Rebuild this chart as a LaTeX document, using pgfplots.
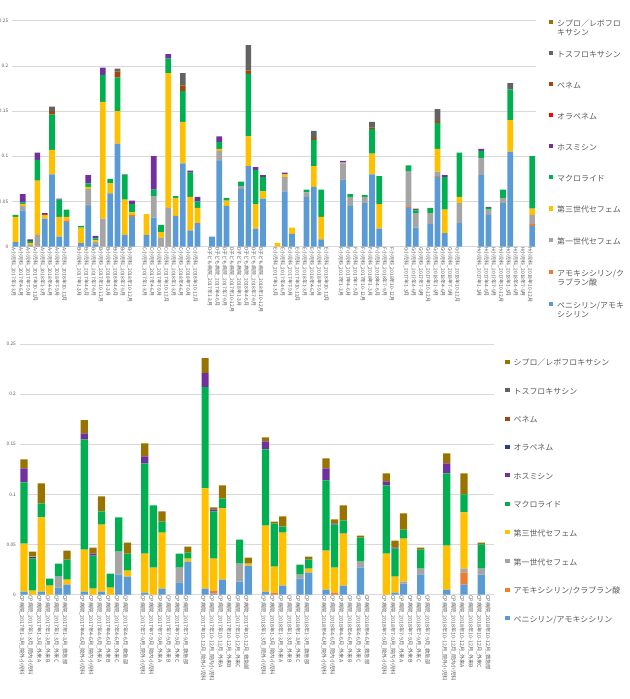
\documentclass[border=0pt]{standalone}
\usepackage{fontspec}
\setmainfont{Noto Sans CJK JP}
\usepackage{pgfplots}
\pgfplotsset{compat=1.18}
\usepackage{pgfplotstable}

\definecolor{cPen}{HTML}{5B9BD5}
\definecolor{cAmc}{HTML}{ED7D31}
\definecolor{cCefA}{HTML}{A5A5A5}
\definecolor{cCefC}{HTML}{FFC000}
\definecolor{cMac}{HTML}{00B050}
\definecolor{cFos}{HTML}{7030A0}
\definecolor{cOraTop}{HTML}{FF0000}
\definecolor{cOraBot}{HTML}{264478}
\definecolor{cPnm}{HTML}{9E480E}
\definecolor{cTos}{HTML}{636363}
\definecolor{cCip}{HTML}{997300}
\definecolor{txt}{HTML}{595959}
\definecolor{grd}{HTML}{D9D9D9}

% quarters
\newcommand\qa{2017年1-3月}
\newcommand\qb{2017年4-6月}
\newcommand\qc{2017年7-9月}
\newcommand\qd{2017年10-12月}
\newcommand\qe{2018年1-3月}
\newcommand\qf{2018年4-6月}
\newcommand\qg{2018年7-9月}
\newcommand\qh{2018年10-12月}

% two-line legend text whose second line does not add to the row height
\newcommand\twol[2]{\raisebox{0pt}[\height][0pt]{\begin{tabular}[t]{@{}l@{}}#1\\[-1bp]#2\end{tabular}}}

% per hospital and quarter (x = category slot)
\pgfplotstableread{
x   bl    or    ga    gc    mac   fos   ora   pnm   tos   cip
0   .005  0     0     .028  .002  0     0     0     0     0
1   .040  0     .005  .002  .002  .009  0     0     0     0
2   0     0     .002  .002  .002  .002  0     0     0     0
3   0     0     .013  .060  .023  .008  0     0     0     0
4   .031  0     0     .004  0     .002  0     0     0     0
5   .080  0     0     .027  .039  0     0     .004  .005  0
6   .011  0     0     .022  .019  .001  0     0     0     0
7   .027  .002  0     .004  .008  0     0     0     0     0
9   .004  0     0     .017  .002  0     0     0     0     0
10  .045  0     .019  .002  .004  .009  0     0     0     0
11  .002  0     .003  .002  .002  .003  0     0     0     0
12  0     0     .031  .129  .030  .008  0     0     0     0
13  .059  0     0     .011  .005  0     0     0     0     0
14  .114  0     0     .036  .037  0     0     .007  .003  0
15  .013  0     0     .039  .027  0     0     0     .001  0
16  .033  .002  0     .003  .009  .004  0     0     0     0
18  .013  0     0     .023  0     0     0     0     0     0
19  .032  0     .024  0     .007  .037  0     0     0     0
20  0     0     .010  .006  .008  0     0     0     0     0
21  0     0     .043  .149  .016  .005  0     0     0     0
22  .034  0     0     .020  .002  0     0     0     0     0
23  .092  0     0     .046  .034  0     0     .006  .014  0
24  .018  0     0     .037  .027  .002  0     0     0     0
25  .026  0     0     .017  .007  .005  0     0     0     0
27  .011  0     0     0     0     0     0     0     0     0
28  .095  0     .011  .002  .008  .006  0     0     0     0
29  .045  0     0     .006  .003  0     0     0     0     0
31  .064  0     .003  0     .005  0     0     0     0     0
32  .089  0     0     .033  .069  0     0     .004  .028  0
33  .020  0     0     .027  .038  .003  0     0     0     0
34  .053  0     0     .008  .016  .002  0     0     0     0
36  0     0     0     .004  0     0     0     0     0     0
37  .061  0     .016  .003  0     .002  0     0     0     0
38  .014  0     0     .007  0     0     0     0     0     0
40  .055  0     .005  0     .003  0     0     0     0     0
41  .066  0     0     .023  .029  0     0     .002  .008  0
42  .008  0     0     .025  .030  0     0     0     0     0
45  .074  .001  .017  .001  0     .002  0     0     0     0
46  .045  0     .010  0     .003  0     0     0     0     0
48  .048  0     .007  0     .002  0     0     0     0     0
49  .080  0     0     .023  .027  0     0     .002  .006  0
50  .020  0     0     .027  .031  0     0     0     0     0
54  .043  .001  .039  0     .007  0     0     0     0     0
55  .021  0     .016  0     .003  0     0     0     .002  0
57  .025  0     .012  0     .006  0     0     0     0     0
58  .077  .001  .005  .025  .029  0     0     .002  .013  0
59  .015  0     0     .026  .036  .002  0     0     0     0
61  .026  0     .022  .007  .049  0     0     0     0     0
64  .079  0     .019  0     .008  .002  0     0     0     0
65  .035  0     .006  0     .002  0     0     0     .001  0
67  .048  0     .006  0     .009  0     0     0     0     0
68  .105  0     0     .035  .034  0     0     0     .007  0
71  .023  .002  .010  .007  .058  0     0     0     0     0
}\tophosp

% per quarter and ward
\pgfplotstableread{
x   bl    or    ga    gc    mac   fos   ora   pnm   tos   cip
0   .003  0     0     .048  .061  .014  0     0     0     .009
1   0     0     0     .004  .032  .001  .001  0     0     .005
2   .003  0     0     .074  .014  0     0     0     0     .020
3   0     0     0     .009  .007  0     0     0     0     0
4   .007  0     .011  0     .013  0     0     0     0     0
5   .010  0     0     .005  .020  0     0     0     0     .009
7   .003  0     0     .042  .110  .006  0     0     0     .013
8   0     0     0     .006  .033  .002  0     0     0     .006
9   .003  0     0     .067  .013  0     0     0     0     .015
10  0     0     0     .007  .014  0     0     0     0     0
11  .020  0     .023  0     .034  0     0     0     0     0
12  .018  0     0     .006  .017  0     0     0     0     .011
14  .002  0     0     .039  .090  .007  0     0     0     .013
15  0     0     0     .027  .062  0     0     0     0     0
16  .006  0     0     .056  .011  0     0     0     0     .010
18  .012  0     .015  0     .014  0     0     0     0     0
19  .033  0     0     .003  .006  0     0     0     0     .006
21  .006  0     0     .100  .101  .014  0     0     0     .015
22  .001  .003  0     .032  .047  .002  0     0     0     .002
23  .015  0     0     .071  .010  0     0     0     0     .013
25  .013  0     .018  0     .024  0     0     0     0     0
26  .029  0     0     .002  0     0     0     0     0     .006
28  .003  0     0     .066  .076  .008  0     0     0     .004
29  0     .002  0     .026  .043  0     0     0     0     .002
30  .009  0     0     .053  .006  0     0     0     0     .010
32  .016  0     .004  0     .010  0     0     0     0     0
33  .022  0     0     .004  .009  0     0     0     0     .003
35  .005  0     0     .039  .070  .012  0     0     0     .010
36  0     .002  0     .025  .043  .001  0     0     0     .004
37  .009  0     0     .052  .013  0     0     0     0     .015
39  .027  0     .006  0     .024  0     0     0     0     .002
42  0     0     0     .041  .068  .004  0     0     0     .008
43  .002  0     0     .016  .028  .001  0     0     0     .007
44  .011  0     .002  .043  .009  0     0     0     0     .016
46  .020  0     .006  0     .019  0     0     0     0     .002
49  .005  0     0     .044  .072  .010  0     0     0     .010
51  .010  .012  .004  .056  .018  0     0     0     0     .021
53  .020  0     .006  0     .024  0     0     0     0     .002
}\botward

\pgfplotsset{
  sq/.style={fill=#1, draw=none,
    legend image code/.code={\fill[#1] (0bp,-0.6bp) rectangle (4.2bp,3.6bp);}},
  chartbase/.style={
    scale only axis, ybar stacked,
    ymin=0, ymax=0.25,
    ytick={0,0.05,0.1,0.15,0.2,0.25},
    yticklabels={0,0.05,0.1,0.15,0.2,0.25},
    ymajorgrids, grid style={grd, line width=0.6bp},
    axis line style={draw=none}, major tick length=0pt,
    yticklabel style={font=\fontsize{4.8}{5}\selectfont, text=txt, inner sep=0.5bp, xshift=-3bp},
    xticklabel style={rotate=-90, anchor=west, text=txt, inner sep=0.5bp, yshift=-2bp},
    legend cell align=left,
    reverse legend,
    legend style={draw=none, fill=none, inner sep=0pt, text=txt,
      font=\fontsize{8}{10.5}\selectfont,
      /tikz/every odd column/.append style={column sep=2bp}},
  }
}

\begin{document}
\begin{tikzpicture}[x=1bp, y=1bp]
\path[use as bounding box] (0,0) rectangle (630,699);

% ---------- per hospital (plot box top edge lands at y = 685.7) ----------
\begin{axis}[chartbase,
  at={(16.4,750.4)}, anchor=north west,
  width=523.8bp, height=226bp,
  xmin=-0.5, xmax=71.5,
  bar width=5.7bp,
  xtick={0,1,2,3,4,5,6,7, 9,10,11,12,13,14,15,16, 18,19,20,21,22,23,24,25,
         27,28,29,30,31,32,33,34, 36,37,38,39,40,41,42,43, 45,46,47,48,49,50,51,52,
         54,55,56,57,58,59,60,61, 64,65,66,67,68,69,70,71},
  xticklabels={
    A小児科\_\qa,A小児科\_\qb,A小児科\_\qc,A小児科\_\qd,A小児科\_\qe,A小児科\_\qf,A小児科\_\qg,A小児科\_\qh,
    B小児科\_\qa,B小児科\_\qb,B小児科\_\qc,B小児科\_\qd,B小児科\_\qe,B小児科\_\qf,B小児科\_\qg,B小児科\_\qh,
    C小児科\_\qa,C小児科\_\qb,C小児科\_\qc,C小児科\_\qd,C小児科\_\qe,C小児科\_\qf,C小児科\_\qg,C小児科\_\qh,
    D子ども病院\_\qa,D子ども病院\_\qb,D子ども病院\_\qc,D子ども病院\_\qd,D子ども病院\_\qe,D子ども病院\_\qf,D子ども病院\_\qg,D子ども病院\_\qh,
    E小児科\_\qa,E小児科\_\qb,E小児科\_\qc,E小児科\_\qd,E小児科\_\qe,E小児科\_\qf,E小児科\_\qg,E小児科\_\qh,
    F小児科\_\qa,F小児科\_\qb,F小児科\_\qc,F小児科\_\qd,F小児科\_\qe,F小児科\_\qf,F小児科\_\qg,F小児科\_\qh,
    G小児科\_\qa,G小児科\_\qb,G小児科\_\qc,G小児科\_\qd,G小児科\_\qe,G小児科\_\qf,G小児科\_\qg,G小児科\_\qh,
    H小児科\_\qa,H小児科\_\qb,H小児科\_\qc,H小児科\_\qd,H小児科\_\qe,H小児科\_\qf,H小児科\_\qg,H小児科\_\qh},
  xticklabel style={font=\fontsize{5}{5}\selectfont},
  legend style={at={(1,1)}, anchor=north west, xshift=13bp, yshift=4bp, row sep=19.2bp},
]
\addplot[sq=cPen]    table[x=x,y=bl]  {\tophosp}; \addlegendentry{\twol{ペニシリン/アモキ}{シシリン}}
\addplot[sq=cAmc]    table[x=x,y=or]  {\tophosp}; \addlegendentry{\twol{アモキシシリン/ク}{ラブラン酸}}
\addplot[sq=cCefA]   table[x=x,y=ga]  {\tophosp}; \addlegendentry{第一世代セフェム}
\addplot[sq=cCefC]   table[x=x,y=gc]  {\tophosp}; \addlegendentry{第三世代セフェム}
\addplot[sq=cMac]    table[x=x,y=mac] {\tophosp}; \addlegendentry{マクロライド}
\addplot[sq=cFos]    table[x=x,y=fos] {\tophosp}; \addlegendentry{ホスミシン}
\addplot[sq=cOraTop] table[x=x,y=ora] {\tophosp}; \addlegendentry{オラペネム}
\addplot[sq=cPnm]    table[x=x,y=pnm] {\tophosp}; \addlegendentry{ペネム}
\addplot[sq=cTos]    table[x=x,y=tos] {\tophosp}; \addlegendentry{トスフロキサシン}
\addplot[sq=cCip]    table[x=x,y=cip] {\tophosp}; \addlegendentry{\twol{シプロ／レボフロ}{キサシン}}
\end{axis}

% ---------- per quarter and ward ----------
\begin{axis}[chartbase,
  at={(22.7,354)}, anchor=north west,
  width=474.6bp, height=250.7bp,
  xmin=-0.5, xmax=54.5,
  bar width=7.2bp,
  xtick={0,1,2,3,4,5, 7,8,9,10,11,12, 14,15,16,17,18,19, 21,22,23,24,25,26,
         28,29,30,31,32,33, 35,36,37,38,39,40, 42,43,44,45,46,47, 49,50,51,52,53,54},
  xticklabels={
    CP病院\_\qa\_院外小児科,CP病院\_\qa\_院内小児科,CP病院\_\qa\_外来A,CP病院\_\qa\_外来B,CP病院\_\qa\_外来C,CP病院\_\qa\_救急部,
    CP病院\_\qb\_院外小児科,CP病院\_\qb\_院内小児科,CP病院\_\qb\_外来A,CP病院\_\qb\_外来B,CP病院\_\qb\_外来C,CP病院\_\qb\_救急部,
    CP病院\_\qc\_院外小児科,CP病院\_\qc\_院内小児科,CP病院\_\qc\_外来A,CP病院\_\qc\_外来B,CP病院\_\qc\_外来C,CP病院\_\qc\_救急部,
    CP病院\_\qd\_院外小児科,CP病院\_\qd\_院内小児科,CP病院\_\qd\_外来A,CP病院\_\qd\_外来B,CP病院\_\qd\_外来C,CP病院\_\qd\_救急部,
    CP病院\_\qe\_院外小児科,CP病院\_\qe\_院内小児科,CP病院\_\qe\_外来A,CP病院\_\qe\_外来B,CP病院\_\qe\_外来C,CP病院\_\qe\_救急部,
    CP病院\_\qf\_院外小児科,CP病院\_\qf\_院内小児科,CP病院\_\qf\_外来A,CP病院\_\qf\_外来B,CP病院\_\qf\_外来C,CP病院\_\qf\_救急部,
    CP病院\_\qg\_院外小児科,CP病院\_\qg\_院内小児科,CP病院\_\qg\_外来A,CP病院\_\qg\_外来B,CP病院\_\qg\_外来C,CP病院\_\qg\_救急部,
    CP病院\_\qh\_院外小児科,CP病院\_\qh\_院内小児科,CP病院\_\qh\_外来A,CP病院\_\qh\_外来B,CP病院\_\qh\_外来C,CP病院\_\qh\_救急部},
  xticklabel style={font=\fontsize{5.3}{5.3}\selectfont},
  legend style={at={(1,1)}, anchor=north west, xshift=11bp, yshift=-13bp, row sep=16.5bp},
]
\addplot[sq=cPen]    table[x=x,y=bl]  {\botward}; \addlegendentry{ペニシリン/アモキシシリン}
\addplot[sq=cAmc]    table[x=x,y=or]  {\botward}; \addlegendentry{アモキシシリン/クラブラン酸}
\addplot[sq=cCefA]   table[x=x,y=ga]  {\botward}; \addlegendentry{第一世代セフェム}
\addplot[sq=cCefC]   table[x=x,y=gc]  {\botward}; \addlegendentry{第三世代セフェム}
\addplot[sq=cMac]    table[x=x,y=mac] {\botward}; \addlegendentry{マクロライド}
\addplot[sq=cFos]    table[x=x,y=fos] {\botward}; \addlegendentry{ホスミシン}
\addplot[sq=cOraBot] table[x=x,y=ora] {\botward}; \addlegendentry{オラペネム}
\addplot[sq=cPnm]    table[x=x,y=pnm] {\botward}; \addlegendentry{ペネム}
\addplot[sq=cTos]    table[x=x,y=tos] {\botward}; \addlegendentry{トスフロキサシン}
\addplot[sq=cCip]    table[x=x,y=cip] {\botward}; \addlegendentry{シプロ／レボフロキサシン}
\end{axis}
\end{tikzpicture}
\end{document}
